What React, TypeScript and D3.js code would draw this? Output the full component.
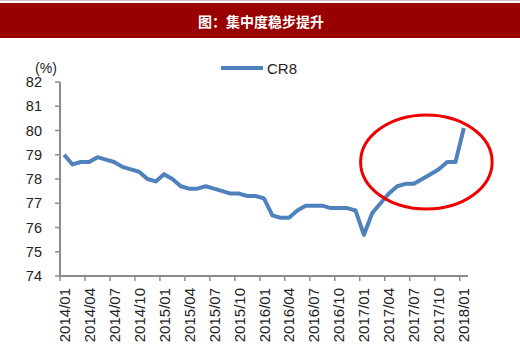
import React from "react";
import * as d3 from "d3";

const months: string[] = [];
for (let y = 2014; y <= 2018; y++) {
  for (let m = 1; m <= 12; m++) {
    if (y === 2018 && m > 1) break;
    months.push(`${y}/${String(m).padStart(2, "0")}`);
  }
}

const cr8Values = [
  79.0, 78.6, 78.7, 78.7, 78.9, 78.8, 78.7, 78.5, 78.4, 78.3, 78.0, 77.9,
  78.2, 78.0, 77.7, 77.6, 77.6, 77.7, 77.6, 77.5, 77.4, 77.4, 77.3, 77.3,
  77.2, 76.5, 76.4, 76.4, 76.7, 76.9, 76.9, 76.9, 76.8, 76.8, 76.8, 76.7,
  75.7, 76.6, 77.0, 77.4, 77.7, 77.8, 77.8, 78.0, 78.2, 78.4, 78.7, 78.7,
  80.1,
];

const yTicks = [74, 75, 76, 77, 78, 79, 80, 81, 82];
const seriesName = "CR8";
const title = "图：集中度稳步提升";

// annotation ellipse, in data units (center month index, value; radius in months, value)
const ellipseCenter = { idx: 43.5, value: 78.7 };
const ellipseRadius = { months: 7.9, value: 1.94 };

export default function App() {
  const W = 520;
  const H = 362;
  const left = 60;
  const right = 468;
  const top = 82;
  const bottom = 276;

  const x = d3.scaleBand<string>().domain(months).range([left, right]).paddingInner(0).paddingOuter(0);
  const y = d3.scaleLinear().domain([74, 82]).range([bottom, top]);
  const bw = x.bandwidth();
  const cx = (i: number) => (x(months[i]) as number) + bw / 2;

  const line = d3
    .line<number>()
    .x((_, i) => cx(i))
    .y((d) => y(d));

  const tickMonths = months.filter((_, i) => i % 3 === 0);
  const font = "'Liberation Sans', Arial, sans-serif";
  const axisColor = "#8c8c8c";

  const ex = left + (ellipseCenter.idx + 0.5) * bw;
  const ey = y(ellipseCenter.value);
  const erx = ellipseRadius.months * bw;
  const ery = y(74) - y(74 + ellipseRadius.value);

  return (
    <svg width={W} height={H} style={{ position: "absolute", left: 0, top: 0, background: "#fff" }}>
      <line x1={0} x2={W} y1={0.5} y2={0.5} stroke="#c8c8c8" />
      <rect x={0} y={3} width={W} height={35} fill="#990000" />
      <text
        x={261}
        y={21}
        fill="#fff"
        fontSize={14}
        fontWeight="bold"
        textAnchor="middle"
        dominantBaseline="central"
        fontFamily="'Noto Sans CJK SC', sans-serif"
      >
        {title}
      </text>

      <text x={46} y={68} fontSize={14} fontFamily={font} textAnchor="middle" dominantBaseline="central" fill="#222">
        (%)
      </text>

      {/* legend */}
      <line x1={221} x2={263} y1={68} y2={68} stroke="#4f81bd" strokeWidth={4} />
      <text x={267} y={68} fontSize={15} fontFamily={font} dominantBaseline="central" fill="#222">
        {seriesName}
      </text>

      {/* y axis */}
      <line x1={left} x2={left} y1={top} y2={bottom} stroke={axisColor} strokeWidth={2} />
      {yTicks.map((t) => (
        <g key={t}>
          <line x1={left - 5} x2={left} y1={y(t)} y2={y(t)} stroke={axisColor} strokeWidth={1.5} />
          <text
            x={42}
            y={y(t)}
            fontSize={14.5}
            fontFamily={font}
            textAnchor="end"
            dominantBaseline="central"
            fill="#222"
          >
            {t}
          </text>
        </g>
      ))}

      {/* x axis */}
      <line x1={left} x2={right} y1={bottom} y2={bottom} stroke={axisColor} strokeWidth={2} />
      {tickMonths.map((m) => {
        const tx = x(m) as number;
        return (
          <g key={m}>
            <line x1={tx} x2={tx} y1={bottom} y2={bottom + 5} stroke={axisColor} strokeWidth={1.5} />
            <text
              transform={`translate(${tx + bw / 2},${bottom + 12}) rotate(-90)`}
              fontSize={15}
              fontFamily={font}
              textAnchor="end"
              dominantBaseline="central"
              fill="#222"
            >
              {m}
            </text>
          </g>
        );
      })}

      <path d={line(cr8Values) || ""} fill="none" stroke="#4f81bd" strokeWidth={4} strokeLinejoin="round" />

      <ellipse cx={ex} cy={ey} rx={erx} ry={ery} fill="none" stroke="#ee0000" strokeWidth={3} />
    </svg>
  );
}
